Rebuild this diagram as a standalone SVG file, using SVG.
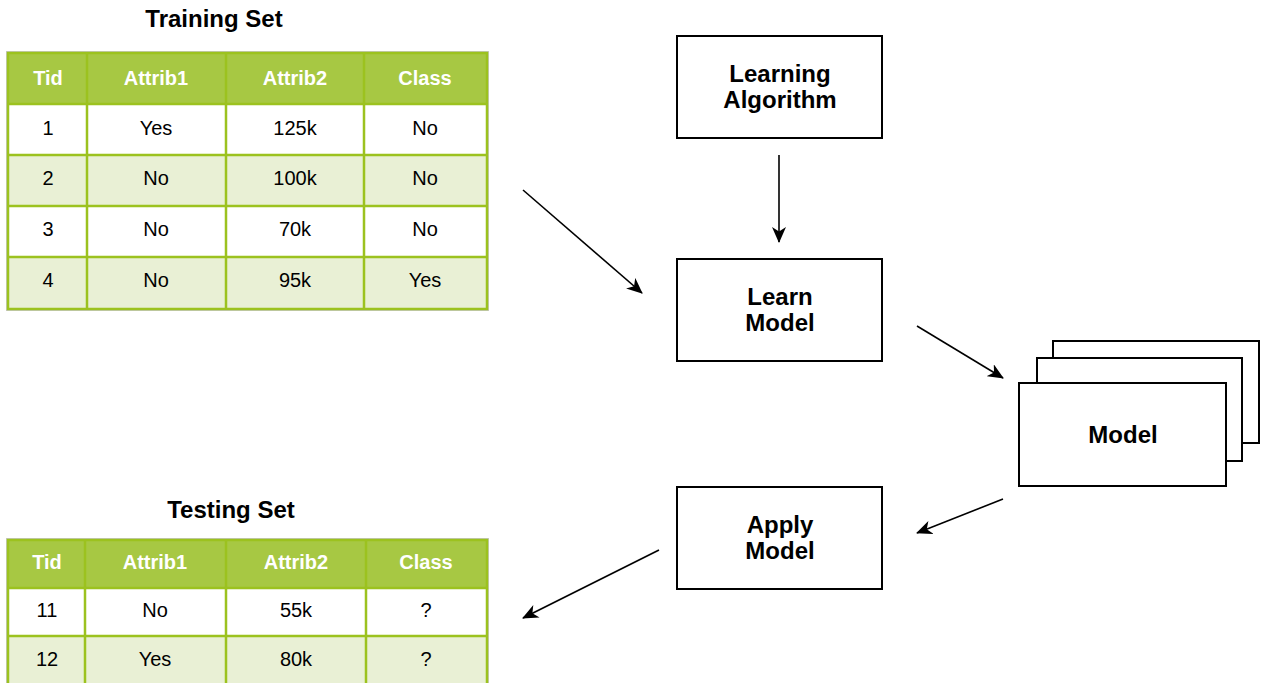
<svg xmlns="http://www.w3.org/2000/svg" width="1264" height="683" viewBox="0 0 1264 683">
  <defs>
    <marker id="arrow" viewBox="0 0 16 14" refX="15" refY="7" markerWidth="16" markerHeight="14" markerUnits="userSpaceOnUse" orient="auto">
      <path d="M0,0 L16,7 L0,14 L4.5,7 Z" fill="#000"/>
    </marker>
  </defs>
  <style>
    .title { font-family: "Liberation Sans", Arial, sans-serif; font-weight: bold; font-size: 24px; fill: #000; text-anchor: middle; }
    .th { font-family: "Liberation Sans", Arial, sans-serif; font-weight: bold; font-size: 20px; fill: #fff; text-anchor: middle; dominant-baseline: central; }
    .td { font-family: "Liberation Sans", Arial, sans-serif; font-size: 20px; fill: #000; text-anchor: middle; dominant-baseline: central; }
    .hdr { fill: #a7c843; }
    .odd { fill: #ffffff; }
    .even { fill: #e9f0d5; }
    .grid { stroke: #9cc21f; stroke-width: 2.5; fill: none; }
    .shadow { fill: none; stroke: #c8c8c8; stroke-width: 1; }
    .box { fill: #fff; stroke: #000; stroke-width: 2; }
    .label { font-family: "Liberation Sans", Arial, sans-serif; font-weight: bold; font-size: 24px; fill: #000; text-anchor: middle; }
    .conn { stroke: #000; stroke-width: 1.6; fill: none; marker-end: url(#arrow); }
  </style>

  <!-- Training set table -->
  <g id="training-set">
    <text class="title" x="214" y="27">Training Set</text>
    <rect class="shadow" x="6.5" y="51.5" width="482" height="259"/>
    <rect class="hdr" x="8" y="53" width="479" height="51"/>
    <rect class="odd" x="8" y="104" width="479" height="51"/>
    <rect class="even" x="8" y="155" width="479" height="51"/>
    <rect class="odd" x="8" y="206" width="479" height="51"/>
    <rect class="even" x="8" y="257" width="479" height="52"/>
    <path class="grid" d="M8,53 H487 V309 H8 Z M8,104 H487 M8,155 H487 M8,206 H487 M8,257 H487 M87,53 V309 M226,53 V309 M364,53 V309"/>
    <text class="th" x="48" y="78">Tid</text>
    <text class="th" x="156" y="78">Attrib1</text>
    <text class="th" x="295" y="78">Attrib2</text>
    <text class="th" x="425" y="78">Class</text>
    <text class="td" x="48" y="128">1</text>
    <text class="td" x="156" y="128">Yes</text>
    <text class="td" x="295" y="128">125k</text>
    <text class="td" x="425" y="128">No</text>
    <text class="td" x="48" y="178">2</text>
    <text class="td" x="156" y="178">No</text>
    <text class="td" x="295" y="178">100k</text>
    <text class="td" x="425" y="178">No</text>
    <text class="td" x="48" y="229">3</text>
    <text class="td" x="156" y="229">No</text>
    <text class="td" x="295" y="229">70k</text>
    <text class="td" x="425" y="229">No</text>
    <text class="td" x="48" y="280">4</text>
    <text class="td" x="156" y="280">No</text>
    <text class="td" x="295" y="280">95k</text>
    <text class="td" x="425" y="280">Yes</text>
  </g>

  <!-- Testing set table -->
  <g id="testing-set">
    <text class="title" x="231" y="518">Testing Set</text>
    <rect class="shadow" x="6.5" y="538.5" width="482" height="150"/>
    <rect class="hdr" x="8" y="540" width="479" height="48"/>
    <rect class="odd" x="8" y="588" width="479" height="48"/>
    <rect class="even" x="8" y="636" width="479" height="50"/>
    <path class="grid" d="M8,690 V540 H487 V690 M8,588 H487 M8,636 H487 M85,540 V690 M226,540 V690 M366,540 V690"/>
    <text class="th" x="47" y="562">Tid</text>
    <text class="th" x="155" y="562">Attrib1</text>
    <text class="th" x="296" y="562">Attrib2</text>
    <text class="th" x="426" y="562">Class</text>
    <text class="td" x="47" y="610">11</text>
    <text class="td" x="155" y="610">No</text>
    <text class="td" x="296" y="610">55k</text>
    <text class="td" x="426" y="610">?</text>
    <text class="td" x="47" y="659">12</text>
    <text class="td" x="155" y="659">Yes</text>
    <text class="td" x="296" y="659">80k</text>
    <text class="td" x="426" y="659">?</text>
  </g>

  <g id="learning-algorithm">
    <rect class="box" x="677" y="36" width="205" height="102"/>
    <text class="label" x="780" y="82">Learning</text>
    <text class="label" x="780" y="108">Algorithm</text>
  </g>

  <g id="learn-model">
    <rect class="box" x="677" y="259" width="205" height="102"/>
    <text class="label" x="780" y="305">Learn</text>
    <text class="label" x="780" y="331">Model</text>
  </g>

  <g id="model">
    <rect class="box" x="1053" y="341" width="206" height="102"/>
    <rect class="box" x="1037" y="358" width="205" height="103"/>
    <rect class="box" x="1019" y="383" width="207" height="103"/>
    <text class="label" x="1123" y="443">Model</text>
  </g>

  <g id="apply-model">
    <rect class="box" x="677" y="487" width="205" height="102"/>
    <text class="label" x="780" y="533">Apply</text>
    <text class="label" x="780" y="559">Model</text>
  </g>

  <g id="connectors">
    <line class="conn" x1="523" y1="190" x2="642" y2="293"/>
    <line class="conn" x1="779" y1="155" x2="779" y2="242"/>
    <line class="conn" x1="917" y1="326" x2="1003" y2="378"/>
    <line class="conn" x1="1003" y1="499" x2="917" y2="533"/>
    <line class="conn" x1="659" y1="550" x2="523" y2="618"/>
  </g>
</svg>
